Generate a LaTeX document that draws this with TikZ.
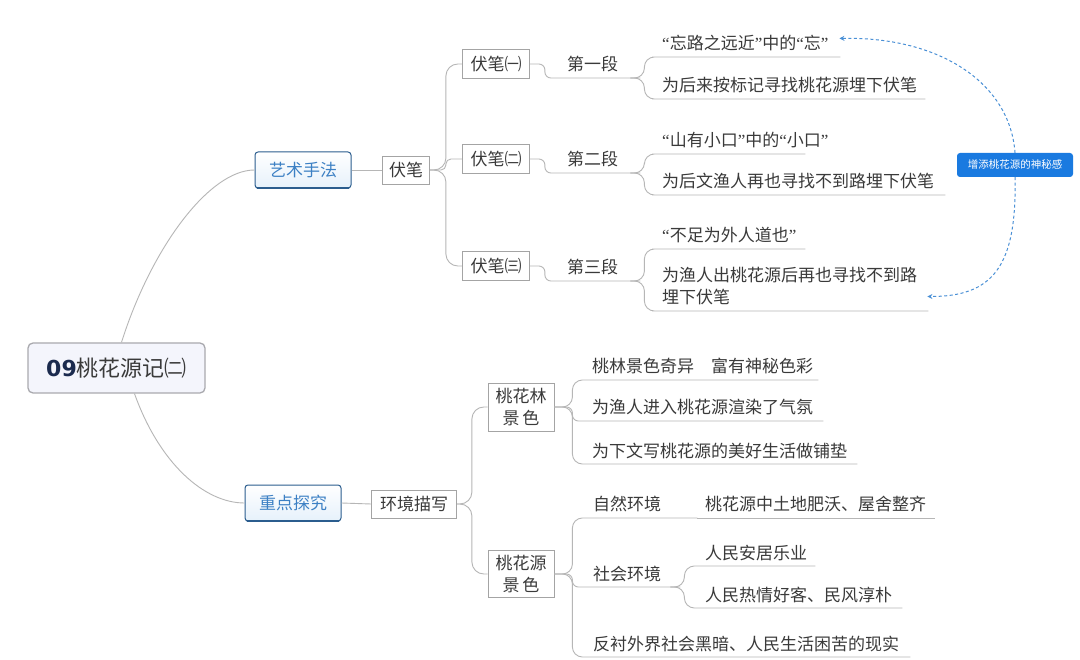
\documentclass[tikz,border=0pt]{standalone}
\usepackage{fontspec}
\setmainfont{Noto Sans CJK SC}
\newfontfamily\latinbold{DejaVu Sans}
\newfontfamily\qfont{Liberation Serif}
\newcommand{\qo}{{\qfont “}}
\newcommand{\qc}{{\qfont ”}}
\usetikzlibrary{arrows.meta}
\definecolor{linegray}{HTML}{B6B6B6}
\definecolor{boxgray}{HTML}{A4A4A4}
\definecolor{txt}{HTML}{3A3A3A}
\definecolor{rootfill}{HTML}{F4F5FC}
\definecolor{rootborder}{HTML}{A9A9AE}
\definecolor{navy}{HTML}{1B2A4E}
\definecolor{cattext}{HTML}{3C80C4}
\definecolor{catborder}{HTML}{2B5D8E}
\definecolor{catfill}{HTML}{E6F1FB}
\definecolor{callblue}{HTML}{1A7AE0}
\definecolor{dashblue}{HTML}{4A90D6}
\newcommand{\fsz}{\fontsize{17}{22}\selectfont}
\begin{document}
\begin{tikzpicture}[x=1pt,y=-1pt,
  every node/.style={text=txt},
  conn/.style={draw=linegray,line width=0.9pt,rounded corners=10pt},
  box/.style={draw=boxgray,fill=white,line width=0.8pt,inner sep=0pt,minimum height=29pt,font=\fsz,align=center},
  leaf/.style={anchor=base west,inner sep=0pt,font=\fsz,align=left,text width=#1pt},
  cat/.style={draw=catborder,line width=1pt,rounded corners=3pt,top color=white,bottom color=catfill,
    minimum width=96pt,minimum height=36pt,inner sep=0pt,font=\fsz,text=cattext},
  catbase/.style={draw=catborder,line width=2.4pt,line cap=round},
  callout/.style={fill=callblue,rounded corners=3pt,minimum width=116pt,minimum height=24pt,inner sep=0pt,
    font=\fontsize{10.5}{12}\selectfont,text=white},
  dashA/.style={draw=dashblue,line width=1pt,dash pattern=on 3pt off 2.5pt,-{Stealth[length=5pt,width=5pt]}}
  ]
\useasboundingbox (0,0) rectangle (1080,660);
\fill[white] (0,0) rectangle (1080,660);

% root
\node[draw=rootborder,fill=rootfill,rounded corners=5pt,line width=1.3pt,minimum width=177pt,minimum height=50pt,inner sep=0pt,
  font=\fontsize{22}{26}\selectfont] (root) at (116.5,368) {{\latinbold\bfseries\color{navy}09}桃花源记㈡};

% categories
\node[cat] (art) at (303,170) {艺术手法};
\draw[catbase] ([xshift=3pt,yshift=0.6pt]art.south west) -- ([xshift=-3pt,yshift=0.6pt]art.south east);
\node[cat] (zd) at (293,503) {重点探究};
\draw[catbase] ([xshift=3pt,yshift=0.6pt]zd.south west) -- ([xshift=-3pt,yshift=0.6pt]zd.south east);

\draw[conn] ([xshift=5pt]root.north) .. controls +(30,-95) and +(-45,0) .. (art.west);
\draw[conn] ([xshift=18pt]root.south) .. controls +(25,70) and +(-40,0) .. (zd.west);

% top branch
\node[box,minimum width=47pt,minimum height=28pt] (fb) at (406,170) {伏笔};
\node[box,minimum width=67pt] (fb1) at (496,64) {伏笔㈠};
\node[box,minimum width=67pt] (fb2) at (496,159) {伏笔㈡};
\node[box,minimum width=67pt] (fb3) at (496,266) {伏笔㈢};

\draw[conn] (art.east) -- (fb.west);
\draw[conn,rounded corners=12pt] (fb.east) -- ++(16,0) |- (fb1.west);
\draw[conn,rounded corners=5pt] (fb.east) -- ++(16,0) |- (fb2.west);
\draw[conn,rounded corners=12pt] (fb.east) -- ++(16,0) |- (fb3.west);

\node[leaf=73] (d1) at (567,71) {第一段};
\node[leaf=73] (d2) at (567,166) {第二段};
\node[leaf=73] (d3) at (567,274) {第三段};
\node[leaf=178] (c1) at (662,50) {\qo 忘路之远近\qc 中的\qo 忘\qc};
\node[leaf=263] (c2) at (662,92) {为后来按标记寻找桃花源埋下伏笔};
\node[leaf=143] (c3) at (662,147) {\qo 山有小口\qc 中的\qo 小口\qc};
\node[leaf=283] (c4) at (662,188) {为后文渔人再也寻找不到路埋下伏笔};
\node[leaf=143] (c5) at (662,242) {\qo 不足为外人道也\qc};
\node[leaf=266] (c6) at (662,282) {为渔人出桃花源后再也寻找不到路\\埋下伏笔};

\draw[conn,rounded corners=6pt] (fb1.east) -- ++(15,0) |- ([yshift=-7pt]d1.base west) -- ([yshift=-7pt]d1.base east);
\draw[conn,rounded corners=6pt] (fb2.east) -- ++(15,0) |- ([yshift=-7pt]d2.base west) -- ([yshift=-7pt]d2.base east);
\draw[conn,rounded corners=6pt] (fb3.east) -- ++(15,0) |- ([yshift=-7pt]d3.base west) -- ([yshift=-7pt]d3.base east);

\draw[conn] ([xshift=-10pt,yshift=-7pt]d1.base east) -- ++(14,0) |- ([yshift=-7pt]c1.base west) -- ([yshift=-7pt]c1.base east);
\draw[conn] ([xshift=-10pt,yshift=-7pt]d1.base east) -- ++(14,0) |- ([yshift=-7pt]c2.base west) -- ([yshift=-7pt]c2.base east);
\draw[conn] ([xshift=-10pt,yshift=-7pt]d2.base east) -- ++(14,0) |- ([yshift=-7pt]c3.base west) -- ([yshift=-7pt]c3.base east);
\draw[conn] ([xshift=-10pt,yshift=-7pt]d2.base east) -- ++(14,0) |- ([yshift=-7pt]c4.base west) -- ([yshift=-7pt]c4.base east);
\draw[conn] ([xshift=-10pt,yshift=-7pt]d3.base east) -- ++(14,0) |- ([yshift=-7pt]c5.base west) -- ([yshift=-7pt]c5.base east);
\draw[conn] ([xshift=-10pt,yshift=-7pt]d3.base east) -- ++(14,0) |- ([yshift=-29pt]c6.base west) -- ([yshift=-29pt]c6.base east);

% callout
\node[callout] (co) at (1015,165) {增添桃花源的神秘感};
\draw[dashA] (co.north) .. controls +(-5,-70) and +(100,-2) .. ([xshift=-1pt,yshift=-3pt]c1.north east);
\draw[dashA] (co.south) .. controls +(2,90) and +(65,0) .. ([xshift=-1pt,yshift=-10pt]c6.east);

% bottom branch
\node[box,minimum width=85pt,minimum height=28pt] (hj) at (414,504) {环境描写};
\node[box,minimum width=66pt,minimum height=48pt] (tl) at (521,407) {桃花林\\景\,色};
\node[box,minimum width=66pt,minimum height=47pt] (ty) at (521,574) {桃花源\\景\,色};

\draw[conn] (zd.east) -- (hj.west);
\draw[conn,rounded corners=12pt] (hj.east) -- ++(15,0) |- (tl.west);
\draw[conn,rounded corners=12pt] (hj.east) -- ++(15,0) |- (ty.west);

\node[leaf=226] (t1) at (592,373) {桃林景色奇异　富有神秘色彩};
\node[leaf=231] (t2) at (592,414) {为渔人进入桃花源渲染了气氛};
\node[leaf=265] (t3) at (592,457) {为下文写桃花源的美好生活做铺垫};

\draw[conn] (tl.east) -- ++(18,0) |- ([yshift=-7pt]t1.base west) -- ([yshift=-7pt]t1.base east);
\draw[conn,rounded corners=6pt] (tl.east) -- ++(18,0) |- ([yshift=-7pt]t2.base west) -- ([yshift=-7pt]t2.base east);
\draw[conn] (tl.east) -- ++(18,0) |- ([yshift=-7pt]t3.base west) -- ([yshift=-7pt]t3.base east);

\node[leaf=104] (z1) at (593,511) {自然环境};
\node[leaf=230] (z1a) at (705,511) {桃花源中土地肥沃、屋舍整齐};
\node[leaf=87] (z2) at (593,580) {社会环境};
\node[leaf=110] (s1) at (705,559) {人民安居乐业};
\node[leaf=197] (s2) at (705,601) {人民热情好客、民风淳朴};
\node[leaf=317] (z3) at (593,650) {反衬外界社会黑暗、人民生活困苦的现实};

\draw[conn] (ty.east) -- ++(18,0) |- ([yshift=-7pt]z1.base west) -- ([yshift=-7pt]z1.base east);
\draw[conn,rounded corners=6pt] (ty.east) -- ++(18,0) |- ([yshift=-7pt]z2.base west) -- ([yshift=-7pt]z2.base east);
\draw[conn] (ty.east) -- ++(18,0) |- ([yshift=-7pt]z3.base west) -- ([yshift=-7pt]z3.base east);
\draw[conn] ([yshift=-7pt]z1.base east) -- ([yshift=-7pt]z1a.base east);
\draw[conn] ([xshift=-10pt,yshift=-7pt]z2.base east) -- ++(14,0) |- ([yshift=-7pt]s1.base west) -- ([yshift=-7pt]s1.base east);
\draw[conn] ([xshift=-10pt,yshift=-7pt]z2.base east) -- ++(14,0) |- ([yshift=-7pt]s2.base west) -- ([yshift=-7pt]s2.base east);
\end{tikzpicture}
\end{document}
